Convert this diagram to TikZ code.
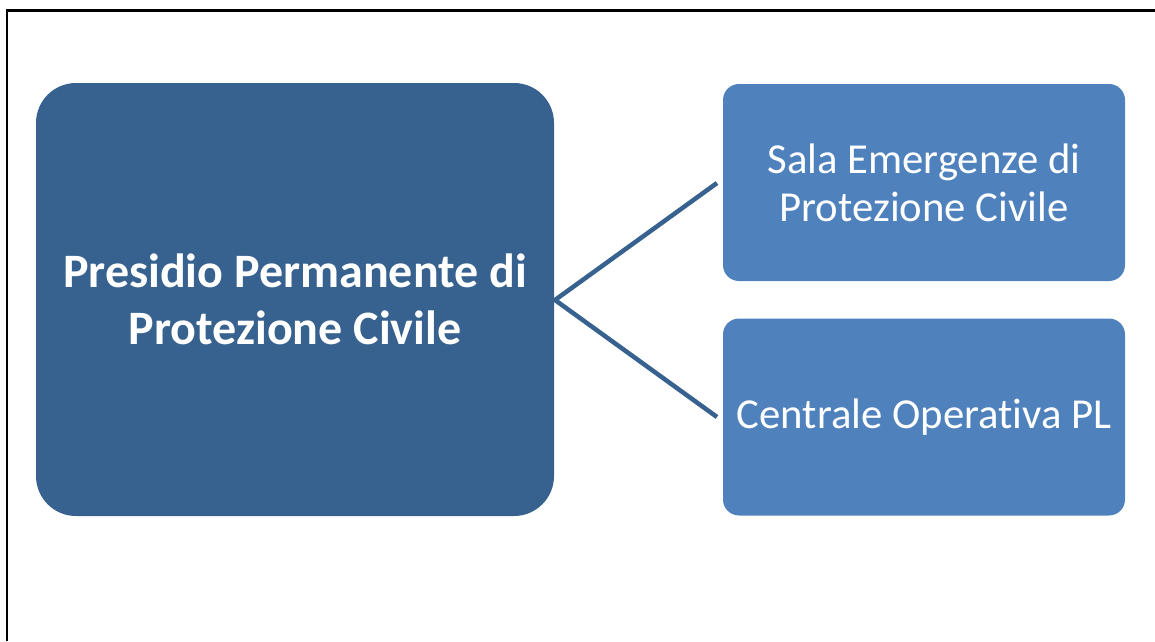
\documentclass[tikz,border=0pt]{standalone}
\usepackage{fontspec}
\setmainfont[Ligatures=NoCommon]{Carlito}
\definecolor{darkblue}{HTML}{37618F}
\definecolor{lightblue}{HTML}{4F81BD}
\tikzset{
  mainbox/.style={fill=darkblue, rounded corners=40pt, minimum width=518pt, minimum height=433pt,
    text=white, align=center, inner sep=0pt, font=\bfseries\fontsize{48}{57}\selectfont},
  subbox/.style={fill=lightblue, rounded corners=16pt, minimum width=402pt, minimum height=197pt,
    text=white, align=center, inner sep=0pt, font=\fontsize{42.7}{48}\selectfont},
  link/.style={draw=darkblue, line width=4.5pt},
  frameline/.style={draw=black, line width=2.5pt}
}
\begin{document}
\begin{tikzpicture}[x=1pt, y=-1pt]
\useasboundingbox (0,0) rectangle (1155,641);
\coordinate (fa) at (7,641);
\coordinate (fb) at (7,10.5);
\coordinate (fc) at (1155,10.5);
\draw[frameline] (fa) -- (fb) -- (fc);
\node[mainbox] (main) at (295,299.5) {Presidio Permanente di\\Protezione Civile};
\node[subbox] (sala) at (924,182.5) {Sala Emergenze di\\Protezione Civile};
\node[subbox] (cent) at (924,417) {Centrale Operativa PL};
\coordinate (hub) at (555,300);
\coordinate (e1) at (717,183);
\coordinate (e2) at (717,417);
\draw[link] (e1) -- (hub) -- (e2);
\end{tikzpicture}
\end{document}
